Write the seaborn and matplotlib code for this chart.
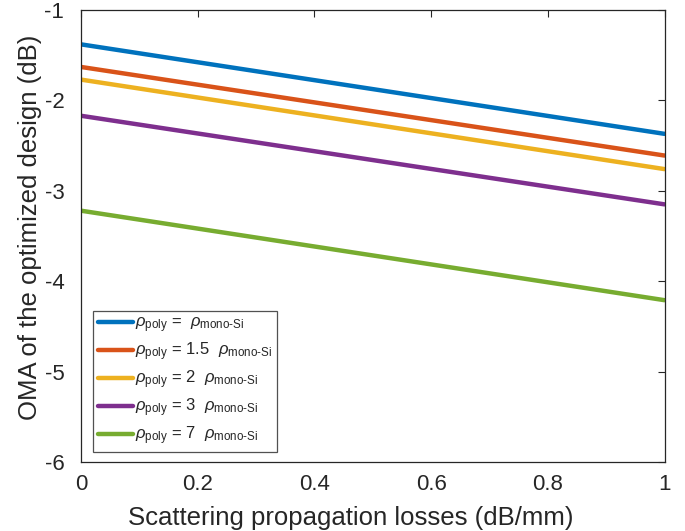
import matplotlib
matplotlib.use("Agg")
import matplotlib.pyplot as plt
import seaborn as sns
import pandas as pd

# Data
losses = [0.0, 1.0]
series_labels = [
    r"$\rho_{\mathrm{poly}}$ =  $\rho_{\text{mono-Si}}$",
    r"$\rho_{\mathrm{poly}}$ = 1.5  $\rho_{\text{mono-Si}}$",
    r"$\rho_{\mathrm{poly}}$ = 2  $\rho_{\text{mono-Si}}$",
    r"$\rho_{\mathrm{poly}}$ = 3  $\rho_{\text{mono-Si}}$",
    r"$\rho_{\mathrm{poly}}$ = 7  $\rho_{\text{mono-Si}}$",
]
oma_ratio1 = [-1.38, -2.37]
oma_ratio1_5 = [-1.63, -2.61]
oma_ratio2 = [-1.77, -2.76]
oma_ratio3 = [-2.17, -3.15]
oma_ratio7 = [-3.22, -4.21]
colors = ["#0072BD", "#D95319", "#EDB120", "#7E2F8E", "#77AC30"]
xticks = [0, 0.2, 0.4, 0.6, 0.8, 1]
xticklabels = ["0", "0.2", "0.4", "0.6", "0.8", "1"]
yticks = [-6, -5, -4, -3, -2, -1]
yticklabels = ["-6", "-5", "-4", "-3", "-2", "-1"]

all_series = [oma_ratio1, oma_ratio1_5, oma_ratio2, oma_ratio3, oma_ratio7]
rows = []
for lab, vals in zip(series_labels, all_series):
    for x, y in zip(losses, vals):
        rows.append({"loss": x, "oma": y, "series": lab})
df = pd.DataFrame(rows)

sns.set_theme(style="white")
plt.rcParams["font.family"] = ["Liberation Sans", "DejaVu Sans"]
plt.rcParams["mathtext.fontset"] = "custom"
plt.rcParams["mathtext.rm"] = "Liberation Sans"
plt.rcParams["mathtext.it"] = "Liberation Sans:italic"
plt.rcParams["mathtext.bf"] = "Liberation Sans:bold"

fig = plt.figure(figsize=(6.85, 5.31), dpi=100)
ax = fig.add_axes([81 / 685, 69 / 531, 583.5 / 685, 452 / 531])

sns.lineplot(data=df, x="loss", y="oma", hue="series", hue_order=series_labels,
             palette=colors, linewidth=3.2, ax=ax, sort=False)

ax.set_xlim(0, 1)
ax.set_ylim(-6, -1)
ax.set_xticks(xticks)
ax.set_xticklabels(xticklabels)
ax.set_yticks(yticks)
ax.set_yticklabels(yticklabels)
ax.set_xlabel("Scattering propagation losses (dB/mm)", fontsize=18.5, color="#262626")
ax.set_ylabel("OMA of the optimized design (dB)", fontsize=18.5, color="#262626")
ax.xaxis.set_label_coords(0.463, -0.097)
ax.yaxis.set_label_coords(-0.067, 0.52)
ax.tick_params(direction="in", length=5, width=0.8, top=True, right=True,
               labelsize=16, colors="#262626")
ax.tick_params(axis="x", pad=9)
ax.tick_params(axis="y", pad=12)
for s in ax.spines.values():
    s.set_color("#262626")
    s.set_linewidth(0.9)

leg = ax.legend(loc="lower left", bbox_to_anchor=(0.0206, 0.022), fontsize=12,
                frameon=True, fancybox=False, edgecolor="#262626",
                handlelength=2.1, handletextpad=0.1, borderaxespad=0.0,
                labelspacing=0.32, borderpad=0.3)
leg.get_frame().set_linewidth(0.9)

fig.savefig("out.png", dpi=100)
